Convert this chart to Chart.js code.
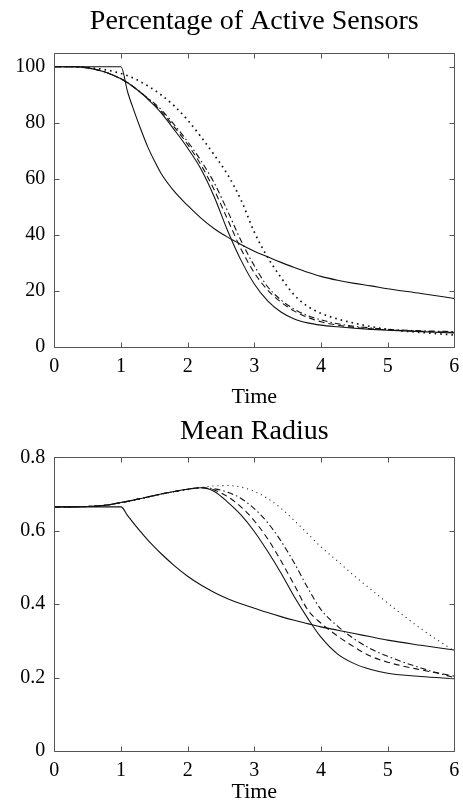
<!DOCTYPE html>
<html>
<head>
<meta charset="utf-8">
<script src="https://cdn.jsdelivr.net/npm/chart.js@4/dist/chart.umd.min.js"></script>
<style>
  html, body { margin: 0; padding: 0; background: #fff; }
  #wrap { position: relative; width: 463px; height: 812px; }
  #topChart { position: absolute; left: 0; top: 0; }
  #botChart { position: absolute; left: 0; top: 410px; }
</style>
</head>
<body>
<div id="wrap">
  <canvas id="topChart" width="463" height="410"></canvas>
  <canvas id="botChart" width="463" height="402"></canvas>
</div>
<script>
// shared time grid
var time = [0, 0.25, 0.5, 0.75, 1, 1.1, 1.2, 1.3, 1.4, 1.5, 1.6, 1.8, 2, 2.2, 2.4, 2.6, 2.8, 3, 3.2, 3.4, 3.6, 3.8, 4, 4.25, 4.5, 4.75, 5, 5.5, 6];
var timeTicks = [0, 1, 2, 3, 4, 5, 6];

// Percentage of Active Sensors
var activeTicks = [0, 20, 40, 60, 80, 100];
var activeA = [100, 100, 100, 100, 100, 91, 84, 77.5, 71.5, 66.5, 62, 55.5, 50.5, 46, 42.2, 39.2, 36.6, 34.2, 32.2, 30.2, 28.4, 26.7, 25.2, 23.8, 22.7, 21.8, 20.8, 19.1, 17.3];
var activeB = [100, 100, 99.6, 98.2, 95.7, 94.3, 92.6, 90.7, 88.5, 86.2, 83.6, 77.5, 71, 63.5, 53.5, 41.5, 31, 22.5, 16.5, 12.5, 10, 8.6, 7.8, 7.2, 6.7, 6.3, 6, 5.5, 5];
var activeDashed = [100, 100, 99.6, 98.2, 95.7, 94.3, 92.6, 90.7, 88.7, 86.6, 84.2, 78.5, 72.3, 65, 56, 45.5, 35, 26.5, 20.3, 16, 12.8, 10.6, 9, 7.8, 7, 6.5, 6.1, 5.6, 5.2];
var activeDashDot = [100, 100, 99.6, 98.2, 95.7, 94.3, 92.6, 90.8, 88.9, 87, 84.8, 79.3, 73.3, 66.5, 58.5, 48.5, 38, 29, 21.5, 16.8, 13.5, 11.2, 9.7, 8.3, 7.4, 6.8, 6.3, 5.8, 5.5];
var activeDotted = [100, 100, 99.7, 99, 97.6, 96.8, 95.8, 94.6, 93.2, 91.7, 90, 86, 81, 75, 68.5, 61.5, 52.5, 41, 32, 24.8, 18.5, 14.5, 12, 10, 8.5, 7.3, 6.3, 5.2, 4.3];

// Mean Radius
var radiusTicks = [0, 0.2, 0.4, 0.6, 0.8];
var radiusA = [0.665, 0.665, 0.665, 0.665, 0.665, 0.641, 0.618, 0.596, 0.575, 0.556, 0.538, 0.505, 0.476, 0.452, 0.432, 0.415, 0.401, 0.389, 0.377, 0.366, 0.356, 0.347, 0.338, 0.329, 0.32, 0.311, 0.302, 0.288, 0.275];
var radiusB = [0.665, 0.665, 0.666, 0.669, 0.677, 0.68, 0.684, 0.688, 0.692, 0.696, 0.7, 0.707, 0.713, 0.717, 0.707, 0.678, 0.643, 0.598, 0.544, 0.485, 0.42, 0.362, 0.31, 0.264, 0.238, 0.222, 0.212, 0.203, 0.197];
var radiusDashed = [0.665, 0.665, 0.666, 0.669, 0.677, 0.68, 0.684, 0.688, 0.692, 0.696, 0.7, 0.707, 0.713, 0.717, 0.711, 0.693, 0.665, 0.627, 0.578, 0.518, 0.452, 0.385, 0.348, 0.313, 0.283, 0.258, 0.242, 0.221, 0.204];
var radiusDashDot = [0.665, 0.665, 0.666, 0.669, 0.677, 0.68, 0.684, 0.688, 0.692, 0.696, 0.7, 0.707, 0.713, 0.717, 0.714, 0.705, 0.688, 0.66, 0.622, 0.572, 0.512, 0.445, 0.385, 0.34, 0.305, 0.278, 0.258, 0.226, 0.2];
var radiusDotted = [0.665, 0.665, 0.666, 0.669, 0.676, 0.679, 0.683, 0.687, 0.691, 0.695, 0.699, 0.706, 0.712, 0.718, 0.722, 0.723, 0.719, 0.707, 0.688, 0.661, 0.628, 0.592, 0.556, 0.517, 0.477, 0.44, 0.403, 0.333, 0.272];

Chart.defaults.font.family = '"Liberation Serif", "Times New Roman", serif';
Chart.defaults.color = "#000";

function pts(values) {
  return values.map(function (v, i) { return { x: time[i], y: v }; });
}

function line(values, dash, width) {
  return {
    data: pts(values),
    borderColor: "#111",
    borderWidth: width || 1.1,
    borderDash: dash || [],
    pointRadius: 0,
    fill: false,
    cubicInterpolationMode: "monotone"
  };
}

// inside tick marks on all four sides plus the box, matlab style
var frameTicks = {
  id: "frameTicks",
  afterDraw: function (chart) {
    var ctx = chart.ctx, a = chart.chartArea, x = chart.scales.x, y = chart.scales.y;
    var len = 5;
    var L = Math.round(a.left) + 0.5, R = Math.round(a.right) + 0.5;
    var T = Math.round(a.top) + 0.5, B = Math.round(a.bottom) + 0.5;
    ctx.save();
    ctx.strokeStyle = "#555";
    ctx.lineWidth = 1;
    ctx.beginPath();
    ctx.rect(L, T, R - L, B - T);
    x.ticks.forEach(function (t) {
      var px = Math.round(x.getPixelForValue(t.value)) + 0.5;
      ctx.moveTo(px, B); ctx.lineTo(px, B - len);
      ctx.moveTo(px, T); ctx.lineTo(px, T + len);
    });
    y.ticks.forEach(function (t) {
      var py = Math.round(y.getPixelForValue(t.value)) + 0.5;
      ctx.moveTo(L, py); ctx.lineTo(L + len, py);
      ctx.moveTo(R, py); ctx.lineTo(R - len, py);
    });
    ctx.stroke();
    ctx.restore();
  }
};

function makeChart(id, cfg) {
  return new Chart(document.getElementById(id), {
    type: "line",
    data: { datasets: cfg.datasets },
    plugins: [frameTicks],
    options: {
      responsive: false,
      devicePixelRatio: 1,
      animation: false,
      layout: { padding: 0 },
      plugins: {
        legend: { display: false },
        tooltip: { enabled: false },
        title: {
          display: true,
          fullSize: false,
          text: cfg.title,
          font: { size: 28, weight: "normal" },
          color: "#000",
          padding: cfg.titlePad
        }
      },
      scales: {
        x: {
          type: "linear",
          min: 0,
          max: 6,
          afterBuildTicks: function (s) { s.ticks = timeTicks.map(function (v) { return { value: v }; }); },
          afterFit: function (s) {
            s.height = cfg.xHeight;
            s.paddingLeft = 0;
            s.paddingRight = 8.7;
          },
          grid: { display: false, drawTicks: false },
          border: { display: false },
          ticks: { font: { size: 20 }, padding: 8, maxRotation: 0, color: "#000" },
          title: { display: true, text: "Time", font: { size: 22 }, color: "#000", padding: { top: 0, bottom: cfg.timePad } }
        },
        y: {
          type: "linear",
          min: 0,
          max: cfg.yMax,
          afterBuildTicks: function (s) { s.ticks = cfg.yTicks.map(function (v) { return { value: v }; }); },
          afterFit: function (s) { s.width = 54.3; },
          grid: { display: false, drawTicks: false },
          border: { display: false },
          ticks: { font: { size: 20 }, padding: 9, color: "#000" }
        }
      }
    }
  });
}

makeChart("topChart", {
  title: "Percentage of Active Sensors",
  titlePad: { top: 5.2, bottom: 14.5 },
  xHeight: 63,
  timePad: 0,
  yMax: 104.8,
  yTicks: activeTicks,
  datasets: [
    line(activeA),
    line(activeB),
    line(activeDashed, [6, 4]),
    line(activeDashDot, [6, 3, 1.5, 3]),
    line(activeDotted, [1.6, 4], 1.7)
  ]
});

makeChart("botChart", {
  title: "Mean Radius",
  titlePad: { top: 4.9, bottom: 8.8 },
  xHeight: 61,
  timePad: 6.9,
  yMax: 0.8,
  yTicks: radiusTicks,
  datasets: [
    line(radiusA),
    line(radiusB),
    line(radiusDashed, [6, 4]),
    line(radiusDashDot, [6, 3, 1.5, 3]),
    line(radiusDotted, [1, 4], 1.1)
  ]
});
</script>
</body>
</html>
